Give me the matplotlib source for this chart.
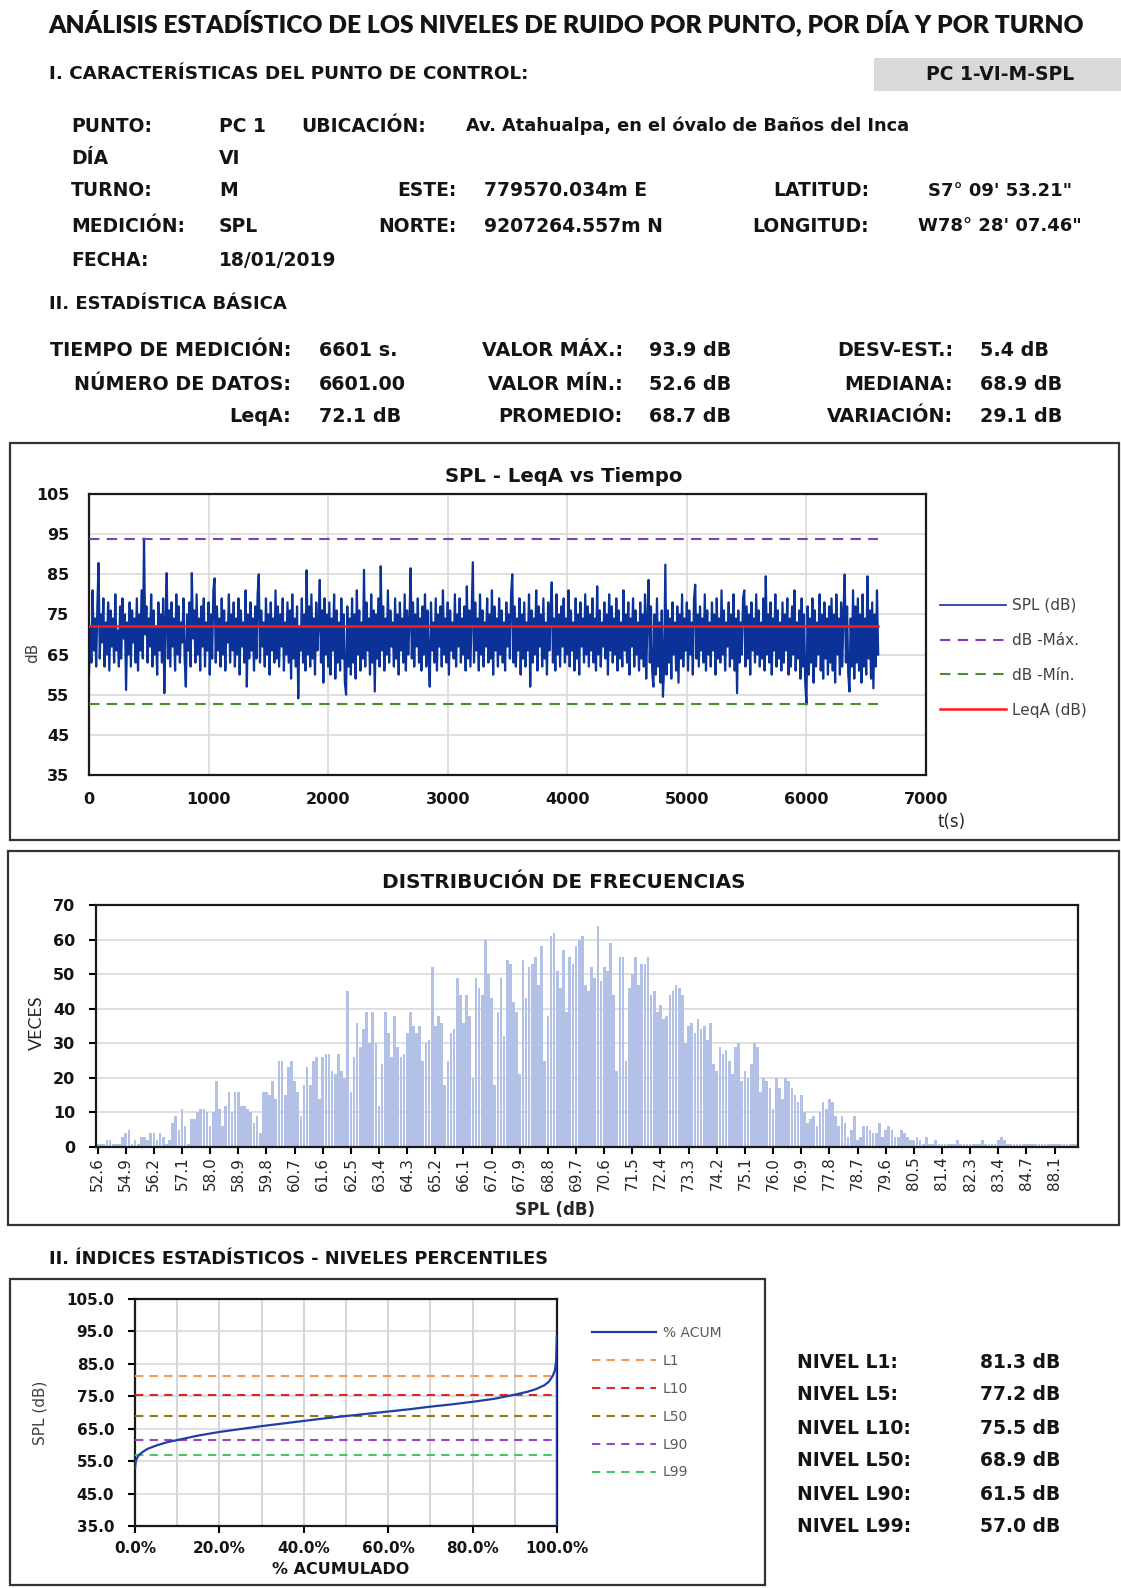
import numpy as np
import matplotlib
matplotlib.use("Agg")
import matplotlib.pyplot as plt
from matplotlib.patches import Rectangle
from matplotlib import font_manager

# ---------------------------------------------------------------- data
POINT_TAG = "PC 1-VI-M-SPL"
INFO_LEFT_LABELS = ["PUNTO:", "DÍA", "TURNO:", "MEDICIÓN:", "FECHA:"]
INFO_LEFT_VALUES = ["PC 1", "VI", "M", "SPL", "18/01/2019"]
UBICACION = "Av. Atahualpa, en el óvalo de Baños del Inca"
COORD_LABELS = ["ESTE:", "NORTE:"]
COORD_VALUES = ["779570.034m E", "9207264.557m N"]
GEO_LABELS = ["LATITUD:", "LONGITUD:"]
GEO_VALUES = ["S7° 09' 53.21\"", "W78° 28' 07.46\""]

STAT_LABELS_1 = ["TIEMPO DE MEDICIÓN:", "NÚMERO DE DATOS:", "LeqA:"]
STAT_VALUES_1 = ["6601 s.", "6601.00", "72.1 dB"]
STAT_LABELS_2 = ["VALOR MÁX.:", "VALOR MÍN.:", "PROMEDIO:"]
STAT_VALUES_2 = ["93.9 dB", "52.6 dB", "68.7 dB"]
STAT_LABELS_3 = ["DESV-EST.:", "MEDIANA:", "VARIACIÓN:"]
STAT_VALUES_3 = ["5.4 dB", "68.9 dB", "29.1 dB"]

# SPL time series, one reading every 10 s
SPL_STEP_S = 10
SPL_DB = [
    60, 72, 63, 81, 66, 74, 62, 77, 87.8, 64, 75, 68, 79, 62, 73, 65, 78, 61, 76, 67,
    74, 63, 80, 66, 71, 62, 77, 64, 79, 69, 75, 56.2, 73, 65, 78, 62, 76, 68, 74, 63,
    79, 61, 75, 66, 81, 64, 93.9, 70, 77, 63, 74, 67, 80, 62, 76, 65, 72, 60, 78, 66,
    75, 63, 79, 55.4, 73, 85.3, 64, 76, 62, 78, 67, 74, 61, 80, 65, 77, 63, 73, 68, 79,
    64, 57, 75, 66, 78, 62, 85.3, 69, 76, 63, 80, 65, 74, 61, 77, 67, 79, 62, 73, 66,
    78, 60, 75, 64, 81, 84, 63, 77, 66, 74, 62, 79, 65, 76, 61, 73, 68, 80, 63, 75,
    66, 78, 62, 74, 65, 79, 60, 76, 67, 73, 63, 81, 57, 75, 64, 78, 66, 74, 61, 77,
    64, 80, 85, 63, 76, 67, 73, 62, 79, 65, 75, 60, 78, 66, 74, 63, 81, 64, 77, 62,
    75, 67, 79, 61, 73, 65, 78, 63, 76, 59, 80, 64, 74, 62, 77, 54.1, 72, 66, 79, 63,
    75, 61, 86, 65, 77, 62, 80, 64, 74, 60, 78, 66, 73, 83.6, 63, 76, 58, 79, 65, 75,
    62, 78, 60, 74, 66, 80, 59, 76, 63, 73, 61, 79, 64, 75, 58, 55, 77, 62, 74, 60,
    79, 63, 75, 59, 81, 65, 76, 61, 73, 64, 86.1, 62, 78, 66, 74, 60, 80, 63, 76, 55.8,
    75, 64, 79, 62, 87, 66, 77, 61, 74, 65, 81, 63, 76, 67, 73, 62, 79, 64, 75, 60,
    78, 66, 74, 63, 80, 61, 76, 65, 73, 86.5, 64, 78, 62, 75, 67, 79, 63, 74, 61, 77,
    65, 80, 62, 76, 64, 57, 78, 66, 73, 63, 79, 61, 75, 67, 77, 62, 81, 65, 74, 63,
    78, 60, 76, 66, 73, 64, 80, 62, 75, 67, 79, 63, 74, 65, 77, 61, 82, 64, 76, 62,
    75, 88, 63, 78, 66, 74, 61, 80, 65, 76, 62, 73, 67, 79, 63, 75, 64, 81, 60, 77,
    66, 74, 62, 79, 65, 76, 63, 73, 61, 78, 67, 75, 64, 80, 85, 63, 77, 62, 74, 66,
    79, 60, 75, 64, 78, 62, 73, 66, 80, 57, 76, 63, 74, 65, 81, 61, 77, 67, 75, 62,
    79, 64, 73, 60, 78, 66, 76, 83, 63, 74, 61, 80, 65, 75, 62, 77, 67, 79, 63, 74,
    65, 81, 62, 76, 66, 73, 61, 79, 64, 75, 60, 78, 67, 74, 63, 80, 65, 77, 62, 75,
    66, 79, 63, 74, 61, 82, 65, 76, 62, 73, 67, 78, 64, 75, 60, 80, 66, 77, 63, 74,
    65, 79, 61, 76, 64, 73, 62, 81, 66, 75, 63, 78, 60, 74, 67, 79, 62, 76, 65, 73,
    61, 78, 64, 75, 62, 80, 59, 74, 83.6, 63, 77, 61, 57, 75, 60, 79, 62, 73, 58, 76,
    54.5, 62, 87.4, 60, 76, 63, 74, 59, 78, 65, 73, 61, 77, 58, 75, 64, 80, 62, 74, 66,
    78, 61, 76, 65, 73, 60, 79, 82.4, 64, 75, 62, 77, 66, 74, 63, 80, 61, 76, 65, 73,
    62, 78, 66, 75, 60, 79, 64, 74, 63, 81, 65, 76, 61, 73, 67, 78, 62, 75, 64, 80,
    61, 74, 55.4, 76, 63, 73, 65, 79, 81, 62, 77, 64, 75, 60, 78, 66, 74, 63, 80, 65,
    76, 62, 73, 64, 79, 61, 84.5, 65, 75, 63, 78, 60, 74, 66, 80, 62, 76, 64, 73, 61,
    78, 63, 75, 66, 79, 60, 74, 62, 77, 65, 81, 61, 73, 64, 76, 59, 79, 62, 75, 58,
    52.6, 77, 60, 74, 63, 79, 58, 76, 62, 73, 65, 80, 61, 75, 59, 78, 64, 74, 60, 77,
    63, 79, 61, 75, 58, 80, 65, 74, 60, 78, 62, 76, 84.9, 63, 77, 60, 55.8, 74, 62, 81,
    59, 77, 63, 79, 61, 75, 58, 80, 62, 74, 60, 84.5, 64, 76, 59, 78, 56.6, 75, 62, 81,
    65,
]
T_END = 6601
DB_MAX = 93.9
DB_MIN = 52.6
LEQ_A = 72.1

# distinct SPL levels found (category axis of the frequency chart)
LEVELS_LOW = [52.6, 52.9, 53.2, 53.5, 53.8, 54.0, 54.2, 54.5, 54.7,
              54.9, 55.0, 55.2, 55.4, 55.5, 55.7, 55.8, 56.0, 56.1]
LEVELS_CORE = [round(v / 10, 1) for v in range(562, 824)]  # 56.2 ... 82.3 in 0.1 dB steps
LEVELS_HIGH = [82.4, 82.5, 82.6, 82.8, 82.9, 83.0, 83.2, 83.3,
               83.4, 83.5, 83.6, 83.8, 83.9, 84.0, 84.2, 84.4, 84.5,
               84.7, 84.9, 85.2, 85.4, 85.8, 86.1, 86.5, 87.0, 87.4,
               88.1, 88.4, 88.8, 89.5, 90.2, 91.0, 92.4, 93.9]
HIST_LEVELS = LEVELS_LOW + LEVELS_CORE + LEVELS_HIGH
HIST_COUNTS = [
    1, 1, 1, 2, 2, 1, 1, 1, 3,
    4, 5, 1, 2, 1, 3, 3, 2, 4,
    4, 2, 4, 3, 1, 2, 7, 9, 5,
    11, 6, 1, 8, 8, 10, 11, 11, 10,
    6, 10, 19, 11, 6, 12, 16, 10, 16,
    16, 12, 12, 11, 10, 7, 9, 4, 16,
    16, 15, 19, 14, 25, 25, 15, 23, 25,
    19, 16, 9, 18, 23, 18, 25, 26, 14,
    26, 27, 27, 22, 21, 27, 22, 20, 45,
    16, 26, 36, 29, 34, 39, 30, 39, 30,
    12, 24, 39, 33, 26, 38, 29, 26, 27,
    33, 39, 35, 33, 35, 25, 30, 31, 52,
    35, 38, 36, 18, 25, 33, 34, 49, 44,
    36, 44, 38, 20, 49, 46, 44, 60, 50,
    43, 18, 39, 49, 32, 54, 53, 42, 39,
    21, 54, 43, 52, 53, 55, 47, 58, 25,
    38, 61, 62, 51, 46, 57, 39, 55, 53,
    58, 60, 61, 47, 45, 52, 49, 64, 48,
    52, 51, 59, 44, 22, 55, 55, 25, 46,
    50, 55, 47, 53, 53, 55, 44, 45, 39,
    41, 37, 38, 44, 45, 47, 46, 44, 30,
    35, 36, 33, 37, 34, 35, 31, 36, 24,
    22, 29, 27, 28, 25, 21, 29, 30, 19,
    22, 20, 24, 30, 29, 16, 20, 19, 17,
    11, 20, 17, 14, 20, 19, 17, 15, 13,
    15, 10, 7, 8, 9, 6, 10, 13, 11,
    14, 13, 9, 6, 9, 7, 3, 5, 9,
    2, 3, 6, 6, 5, 4, 4, 7, 3,
    5, 6, 5, 3, 3, 5, 4, 3, 2,
    2, 3, 2, 1, 3, 1, 1, 2, 1,
    1, 1, 1, 1, 1, 2, 1, 1, 1,
    1, 1, 1, 1, 2, 1, 1, 1, 1,
    2, 3, 2, 1, 1, 1, 1, 1, 1,
    1, 1, 1, 1, 1, 1, 1, 1, 1,
    1, 1, 1, 1, 1, 1, 1, 1,
]

# cumulative distribution (sorted levels against accumulated %)
ACUM_PCT = [0, 0.2, 0.5, 1, 2, 3, 5, 7.5, 10, 15, 20, 25, 30, 35, 40, 45, 50,
            55, 60, 65, 70, 75, 80, 85, 90, 93, 95, 97, 98, 99, 99.5, 99.8, 100, 100]
ACUM_SPL = [52.6, 55.0, 56.0, 57.0, 58.0, 58.8, 59.8, 60.8, 61.5, 62.9, 64.0, 64.9,
            65.8, 66.6, 67.4, 68.2, 68.9, 69.6, 70.3, 71.0, 71.8, 72.5, 73.3, 74.2,
            75.5, 76.4, 77.2, 78.4, 79.4, 81.3, 83.0, 86.0, 93.9, 0.0]

PCTL_NAMES = ["L1", "L10", "L50", "L90", "L99"]
PCTL_VALUES = [81.3, 75.5, 68.9, 61.5, 57.0]
PCTL_COLORS = ["#f39a5a", "#e32424", "#8f7a12", "#9448c4", "#4cc46c"]

NIVEL_NAMES = ["NIVEL L1:", "NIVEL L5:", "NIVEL L10:", "NIVEL L50:", "NIVEL L90:", "NIVEL L99:"]
NIVEL_VALUES = [81.3, 77.2, 75.5, 68.9, 61.5, 57.0]

# ---------------------------------------------------------------- layout helpers
W, H, DPI = 1121, 1588, 100
BODY = "DejaVu Sans"


def font_ok(name):
    try:
        font_manager.findfont(font_manager.FontProperties(family=name),
                              fallback_to_default=False)
        return True
    except Exception:
        return False


TITLE_FONT = "Lato" if font_ok("Lato") else BODY
INK = "#141414"

fig = plt.figure(figsize=(W / DPI, H / DPI), dpi=DPI)
fig.patch.set_facecolor("white")


def fx(x):
    return x / W


def fy(y):
    return 1 - y / H


def txt(x, y, s, size=13.5, ha="left", weight="bold", color=INK, family=BODY, **kw):
    return fig.text(fx(x), fy(y), s, fontsize=size, ha=ha, va="center",
                    fontweight=weight, color=color, family=family, **kw)


def fit_width(t, width_px):
    r = fig.canvas.get_renderer()
    w = t.get_window_extent(renderer=r).width
    t.set_fontsize(t.get_fontsize() * width_px / w)


def box(x0, y0, x1, y1, **kw):
    fig.patches.append(Rectangle((fx(x0), fy(y1)), (x1 - x0) / W, (y1 - y0) / H,
                                 transform=fig.transFigure, **kw))


def axes_px(x0, y0, x1, y1):
    return fig.add_axes([fx(x0), fy(y1), (x1 - x0) / W, (y1 - y0) / H])


# ---------------------------------------------------------------- header
t = txt(566, 23, "ANÁLISIS ESTADÍSTICO DE LOS NIVELES DE RUIDO POR PUNTO, POR DÍA Y POR TURNO",
        size=18, ha="center", family=TITLE_FONT, weight="heavy")
fit_width(t, 1035)

box(874, 58, 1121, 91, facecolor="#d9d9d9", edgecolor="none")
txt(1000, 74, POINT_TAG, size=13.5, ha="center")
t = txt(49, 74, "I. CARACTERÍSTICAS DEL PUNTO DE CONTROL:", size=13)
fit_width(t, 478)

rows_y = [126, 158, 191, 226, 260]
for lab, val, y in zip(INFO_LEFT_LABELS, INFO_LEFT_VALUES, rows_y):
    txt(71, y, lab)
    txt(219, y, val)
txt(301, rows_y[0], "UBICACIÓN:")
t = txt(466, rows_y[0], UBICACION, size=12.5)
fit_width(t, 444)
for lab, val, y in zip(COORD_LABELS, COORD_VALUES, rows_y[2:4]):
    txt(457, y, lab, ha="right")
    txt(484, y, val)
for lab, val, y in zip(GEO_LABELS, GEO_VALUES, rows_y[2:4]):
    txt(869, y, lab, ha="right")
    txt(1000, y, val, ha="center", size=13)

t = txt(49, 304, "II. ESTADÍSTICA BÁSICA", size=12.5)
fit_width(t, 238)

stat_y = [351, 384, 417]
for labels, values, xl, xv in [(STAT_LABELS_1, STAT_VALUES_1, 291, 319),
                               (STAT_LABELS_2, STAT_VALUES_2, 623, 649),
                               (STAT_LABELS_3, STAT_VALUES_3, 953, 980)]:
    for lab, val, y in zip(labels, values, stat_y):
        txt(xl, y, lab, size=13.8, ha="right")
        txt(xv, y, val, size=13.8)

# ---------------------------------------------------------------- chart 1: SPL vs time
box(10, 443, 1119, 840, facecolor="none", edgecolor="#333333", lw=1.6)
ax1 = axes_px(89, 494, 926, 775)
times = np.arange(len(SPL_DB)) * SPL_STEP_S
ax1.plot(times, SPL_DB, color="#0a3299", lw=1.6, label="SPL (dB)", zorder=2)
ax1.plot([0, T_END], [DB_MAX, DB_MAX], color="#7d3fb3", lw=1.5, ls=(0, (5, 3.5)),
         label="dB -Máx.", zorder=3)
ax1.plot([0, T_END], [DB_MIN, DB_MIN], color="#4e8a2e", lw=1.5, ls=(0, (5, 3.5)),
         label="dB -Mín.", zorder=3)
ax1.plot([0, T_END], [LEQ_A, LEQ_A], color="#ff1a1a", lw=1.8, label="LeqA (dB)", zorder=4)
ax1.set_xlim(0, 7000)
ax1.set_ylim(35, 105)
ax1.set_xticks(range(0, 7001, 1000))
ax1.set_yticks(range(35, 106, 10))
ax1.grid(color="#d9d9d9", lw=1.2)
ax1.set_axisbelow(True)
ax1.tick_params(axis="y", length=0, pad=14, labelsize=11.5, labelcolor=INK)
ax1.tick_params(axis="x", length=0, pad=12, labelsize=11.5, labelcolor=INK)
for lab in ax1.get_xticklabels() + ax1.get_yticklabels():
    lab.set_fontweight("bold")
for s in ax1.spines.values():
    s.set_linewidth(1.6)
    s.set_color("#1a1a1a")
leg1 = ax1.legend(loc="upper left", bbox_to_anchor=(fx(940), fy(598)),
                  bbox_transform=fig.transFigure, frameon=False, fontsize=11,
                  handlelength=4.3, handletextpad=0.4, labelspacing=1.3,
                  borderpad=0, borderaxespad=0)
for tt in leg1.get_texts():
    tt.set_color("#404040")
leg1.get_lines()[0].set_linewidth(1.2)
t = txt(564, 476, "SPL - LeqA vs Tiempo", size=13.5, ha="center")
fit_width(t, 238)
txt(33, 653, "dB", size=11, weight="normal", color="#404040", rotation=90, ha="center")
txt(952, 822, "t(s)", size=12, weight="normal", color="#262626", ha="center")

# ---------------------------------------------------------------- chart 2: frequency distribution
box(8, 851, 1119, 1225, facecolor="none", edgecolor="#333333", lw=1.6)
ax2 = axes_px(96, 905, 1078, 1147)
idx = np.arange(len(HIST_COUNTS))
ax2.bar(idx, HIST_COUNTS, width=0.85, color="#b3c1e7", edgecolor="none", zorder=2)
ax2.set_xlim(-0.5, len(HIST_COUNTS) - 0.5)
ax2.set_ylim(0, 70)
ax2.set_yticks(range(0, 71, 10))
ax2.yaxis.grid(True, color="#d9d9d9", lw=1.2)
ax2.set_axisbelow(True)
tick_idx = idx[::9]
ax2.set_xticks(tick_idx)
ax2.set_xticklabels([f"{HIST_LEVELS[i]:.1f}" for i in tick_idx], rotation=90,
                    fontsize=11, color="#262626")
ax2.tick_params(axis="x", direction="out", length=5, width=1.5, pad=2)
ax2.tick_params(axis="y", direction="out", length=5, width=1.5, pad=10,
                labelsize=11.5, labelcolor=INK)
for lab in ax2.get_yticklabels():
    lab.set_fontweight("bold")
for s in ax2.spines.values():
    s.set_linewidth(1.6)
    s.set_color("#1a1a1a")
t = txt(564, 883, "DISTRIBUCIÓN DE FRECUENCIAS", size=13.5, ha="center")
fit_width(t, 362)
txt(37, 1023, "VECES", size=13, weight="normal", color="#262626", rotation=90,
    ha="center", family=TITLE_FONT)
txt(555, 1210, "SPL (dB)", size=12, ha="center", color="#262626")

# ---------------------------------------------------------------- chart 3: percentile levels
t = txt(49, 1259, "II. ÍNDICES ESTADÍSTICOS - NIVELES PERCENTILES", size=12.5)
fit_width(t, 501)
box(10, 1279, 765, 1585, facecolor="none", edgecolor="#333333", lw=1.6)
ax3 = axes_px(135, 1299, 557, 1526)
ax3.plot(ACUM_PCT, ACUM_SPL, color="#1f3fa6", lw=1.6, label="% ACUM", zorder=4)
for name, val, col in zip(PCTL_NAMES, PCTL_VALUES, PCTL_COLORS):
    ax3.plot([0, 100], [val, val], color=col, lw=1.5, ls=(0, (4, 3)), label=name, zorder=3)
ax3.set_xlim(0, 100)
ax3.set_ylim(35, 105)
ax3.set_xticks(range(0, 101, 20))
ax3.set_xticks(range(10, 100, 20), minor=True)
ax3.set_xticklabels([f"{v:.1f}%" for v in range(0, 101, 20)])
ax3.set_yticks(range(35, 106, 10))
ax3.set_yticklabels([f"{v:.1f}" for v in range(35, 106, 10)])
ax3.grid(which="both", axis="x", color="#d0d0d0", lw=1.2)
ax3.grid(which="major", axis="y", color="#d9d9d9", lw=1.2)
ax3.set_axisbelow(True)
ax3.tick_params(axis="x", which="major", direction="out", length=5, width=1.5, pad=6,
                labelsize=11, labelcolor=INK)
ax3.tick_params(axis="x", which="minor", length=0)
ax3.tick_params(axis="y", direction="out", length=5, width=1.5, pad=10,
                labelsize=11, labelcolor=INK)
for lab in ax3.get_xticklabels() + ax3.get_yticklabels():
    lab.set_fontweight("bold")
for s in ax3.spines.values():
    s.set_linewidth(1.6)
    s.set_color("#1a1a1a")
leg3 = ax3.legend(loc="upper left", bbox_to_anchor=(fx(592), fy(1326)),
                  bbox_transform=fig.transFigure, frameon=False, fontsize=10,
                  handlelength=4.6, handletextpad=0.5, labelspacing=1.0,
                  borderpad=0, borderaxespad=0)
for tt in leg3.get_texts():
    tt.set_color("#595959")
txt(40, 1413, "SPL (dB)", size=11, weight="normal", color="#404040", rotation=90, ha="center")
txt(341, 1569, "% ACUMULADO", size=11.5, ha="center")

nivel_y = [1362, 1394, 1428, 1460, 1494, 1527]
for name, val, y in zip(NIVEL_NAMES, NIVEL_VALUES, nivel_y):
    txt(797, y, name)
    txt(980, y, f"{val:.1f} dB")

fig.savefig("out.png", dpi=DPI)
